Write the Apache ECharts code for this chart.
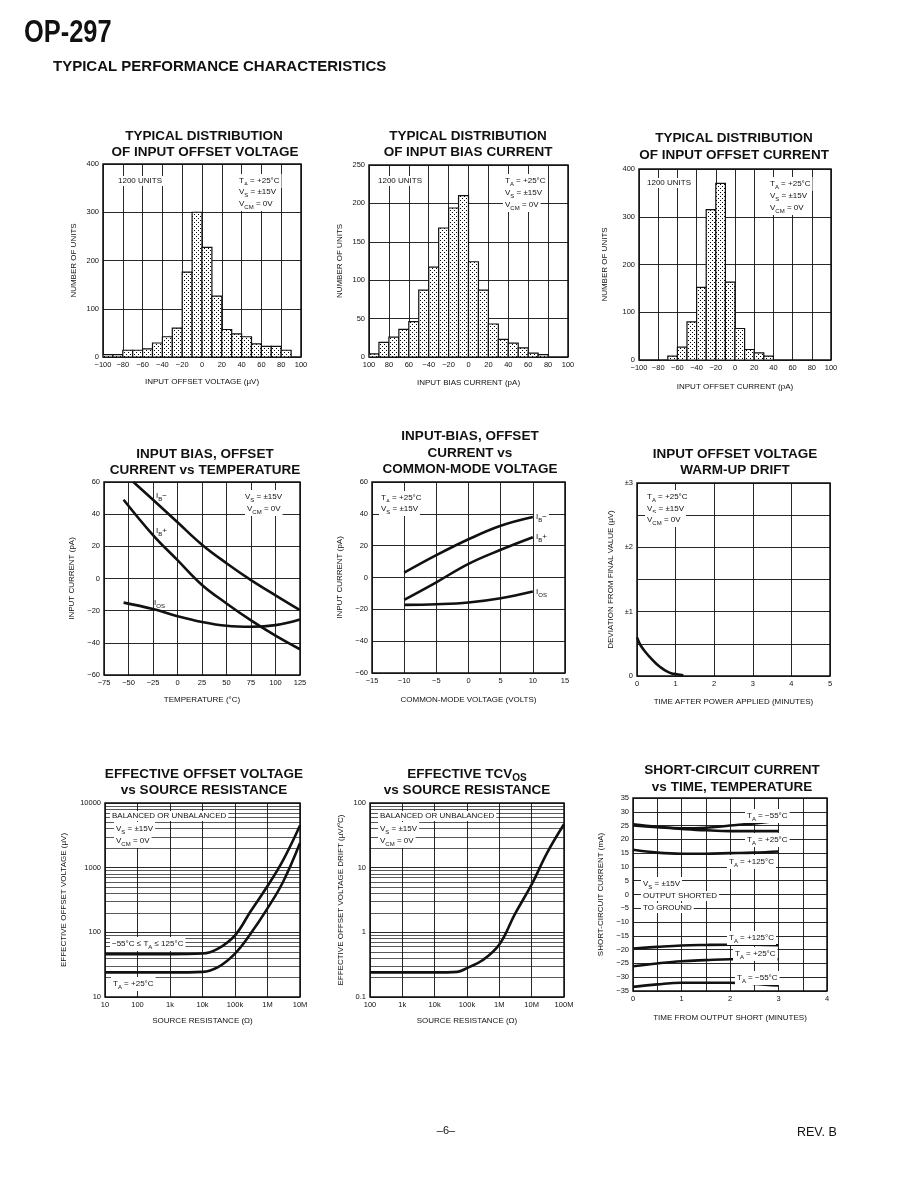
<!DOCTYPE html>
<html><head><meta charset="utf-8">
<script src="https://cdn.jsdelivr.net/npm/echarts@6/dist/echarts.min.js"></script>
<style>html,body{margin:0;padding:0;background:#fff}#c{width:918px;height:1188px}</style>
</head><body><div id="c"></div>
<script>
// ===================== DATA =====================
// 1. Typical distribution of input offset voltage (bins of 10 µV)
const vosBinStart = [-100,-90,-80,-70,-60,-50,-40,-30,-20,-10,0,10,20,30,40,50,60,70,80];
const vosCount    = [5,5,14,14,17,29,42,60,176,300,227,126,57,48,42,27,22,22,14];
const vosTickLabels = ['−100','−80','−60','−40','−20','0','20','40','60','80','100'];
// 2. Typical distribution of input bias current (bins of 10 pA)
const ibBinStart = [-100,-90,-80,-70,-60,-50,-40,-30,-20,-10,0,10,20,30,40,50,60,70];
const ibCount    = [4,19,26,36,46,87,117,168,194,210,124,87,43,23,18,12,5,3];
const ibTickLabels = ['100','80','60','−40','−20','0','20','40','60','80','100'];
// 3. Typical distribution of input offset current (bins of 10 pA)
const iosBinStart = [-70,-60,-50,-40,-30,-20,-10,0,10,20,30];
const iosCount    = [8,27,80,152,315,370,163,66,22,15,8];
const iosTickLabels = ['−100','−80','−60','−40','−20','0','20','40','60','80','100'];
const histBinWidth = 10;
// 4. Input bias / offset current vs temperature (pA)
const ibMinusTemp = [-45,-25,0,25,50,75,100,125];
const ibMinusVsT  = [60,49,35,21,9.5,-1,-10.5,-19.7];
const ibPlusTemp  = [-55,-25,0,25,50,75,100,125];
const ibPlusVsT   = [49,27,11.4,-4,-15.5,-26,-35.5,-44];
const iosVsT      = [-15,-19,-23.4,-27,-29.4,-30,-29,-25.5];
// 5. Input bias / offset current vs common-mode voltage (pA)
const cmVolts     = [-10,-5,0,5,10];
const ibMinusVsCM = [3,14,24,32.5,38];
const ibPlusVsCM  = [-14,-3,8.6,17.4,25.3];
const iosVsCM     = [-17.2,-16.8,-15.7,-13,-8.8];
// 6. Warm-up drift (µV)
const warmTime = [0,0.1,0.25,0.4,0.5,0.6,0.75,0.9,1.0,1.2];
const warmDev  = [0.6,0.47,0.35,0.25,0.19,0.14,0.08,0.04,0.03,0.01];
// 7. Effective offset voltage vs source resistance (µV)
const rsA        = [10,100,1e3,1e4,3e4,1e5,3e5,1e6,3e6,1e7];
const vosFullT   = [46,46,46,47,56,90,210,520,1300,4500];
const vos25C     = [24,24,24,24.5,29,47,95,235,600,2400];
const rsATicks   = [10,100,1e3,1e4,1e5,1e6,1e7];
const rsALabels  = ['10','100','1k','10k','100k','1M','10M'];
const vosYTicks  = [10,100,1000,10000];
const vosYLabels = ['10','100','1000','10000'];
// 8. Effective TCVos vs source resistance (µV/°C)
const rsB        = [100,1e3,1e4,5e4,1e5,3e5,1e6,3e6,1e7,3e7,1e8];
const tcvos      = [0.24,0.24,0.24,0.245,0.28,0.37,0.65,1.9,5.5,17,47];
const rsBTicks   = [100,1e3,1e4,1e5,1e6,1e7,1e8];
const rsBLabels  = ['100','1k','10k','100k','1M','10M','100M'];
const tcYTicks   = [0.1,1,10,100];
const tcYLabels  = ['0.1','1','10','100'];
// 9. Short-circuit current vs time (mA)
const scTime    = [0,0.5,1,1.5,2,2.5,3];
const scM55Pos  = [25.5,24.6,24,24.2,25,25.8,26.8];
const sc25Pos   = [25,24.4,23.8,23.3,23,23,23];
const sc125Pos  = [16.2,15.2,14.8,14.8,15,15.2,15.6];
const sc125Neg  = [-19.6,-19,-18.5,-18.3,-18.2,-18.2,-18.4];
const sc25Neg   = [-26,-25,-24.2,-23.8,-23.5,-23.5,-23.5];
const scM55Neg  = [-33.5,-32.6,-32,-32,-32,-32.4,-33];

// ===================== STYLE / LAYOUT =====================
const FONT = '"Liberation Sans", Arial, Helvetica, sans-serif';
const INK = '#111';
const chart = echarts.init(document.getElementById('c'), null, {renderer:'canvas', width:918, height:1188});

// stipple pattern for histogram bars
const pat = document.createElement('canvas');
pat.width = 4; pat.height = 4;
(function(){ const g = pat.getContext('2d'); g.fillStyle = '#fff'; g.fillRect(0,0,4,4);
  g.fillStyle = '#000'; g.fillRect(0,0,1,1); g.fillRect(2,2,1,1); })();
const stipple = {image: pat, repeat: 'repeat'};

const gridBoxes = [
  [103,164,198,193],[369,165,199,192],[639,169,192,191],
  [104,482,196,193],[372,482,193,191],[637,483,193,193],
  [105,803,195,194],[370,803,194,194],[633,798,194,193]
];
const grids = gridBoxes.map(b => ({left:b[0], top:b[1], width:b[2], height:b[3], show:true,
  borderColor:INK, borderWidth:1.5, backgroundColor:'transparent'}));

const minus = v => (v < 0 ? '−' + (-v) : String(v));
function axis(gi, o) {
  const base = {gridIndex:gi, type:'value', axisLine:{show:false}, axisTick:{show:false},
    splitLine:{show:true, lineStyle:{color:INK, width:0.9}},
    nameLocation:'middle', nameTextStyle:{fontSize:8, color:INK, fontFamily:FONT},
    axisLabel:{fontSize:7.5, color:INK, fontFamily:FONT, margin:4, showMinLabel:true, showMaxLabel:true, hideOverlap:false}};
  const r = Object.assign({}, base, o);
  r.axisLabel = Object.assign({}, base.axisLabel, o.axisLabel || {});
  return r;
}
const lookup = (ticks, labels) => v => { const i = ticks.findIndex(t => Math.abs(Math.log10(t) - Math.log10(v)) < 1e-6); return i >= 0 ? labels[i] : ''; };

const xAxes = [
  axis(0,{min:-100,max:100,interval:20,name:'INPUT OFFSET VOLTAGE (µV)',nameGap:21,axisLabel:{formatter:v=>vosTickLabels[Math.round((v+100)/20)]}}),
  axis(1,{min:-100,max:100,interval:20,name:'INPUT BIAS CURRENT (pA)',nameGap:22,axisLabel:{formatter:v=>ibTickLabels[Math.round((v+100)/20)]}}),
  axis(2,{min:-100,max:100,interval:20,name:'INPUT OFFSET CURRENT (pA)',nameGap:23,axisLabel:{formatter:v=>iosTickLabels[Math.round((v+100)/20)]}}),
  axis(3,{min:-75,max:125,interval:25,name:'TEMPERATURE (°C)',nameGap:21,axisLabel:{formatter:minus}}),
  axis(4,{min:-15,max:15,interval:5,name:'COMMON-MODE VOLTAGE (VOLTS)',nameGap:23,axisLabel:{formatter:minus}}),
  axis(5,{min:0,max:5,interval:1,name:'TIME AFTER POWER APPLIED (MINUTES)',nameGap:22}),
  axis(6,{type:'log',logBase:10,min:10,max:1e7,splitNumber:6,name:'SOURCE RESISTANCE (Ω)',nameGap:20,axisLabel:{formatter:lookup(rsATicks,rsALabels)}}),
  axis(7,{type:'log',logBase:10,min:100,max:1e8,splitNumber:6,name:'SOURCE RESISTANCE (Ω)',nameGap:20,axisLabel:{formatter:lookup(rsBTicks,rsBLabels)}}),
  axis(8,{min:0,max:4,interval:0.5,name:'TIME FROM OUTPUT SHORT (MINUTES)',nameGap:23,axisLabel:{formatter:v=>Number.isInteger(v)?String(v):''}})
];
const yAxes = [
  axis(0,{min:0,max:400,interval:100,name:'NUMBER OF UNITS',nameGap:25}),
  axis(1,{min:0,max:250,interval:50,name:'NUMBER OF UNITS',nameGap:25}),
  axis(2,{min:0,max:400,interval:100,name:'NUMBER OF UNITS',nameGap:30}),
  axis(3,{min:-60,max:60,interval:20,name:'INPUT CURRENT (pA)',nameGap:28,axisLabel:{formatter:minus}}),
  axis(4,{min:-60,max:60,interval:20,name:'INPUT CURRENT (pA)',nameGap:28,axisLabel:{formatter:minus}}),
  axis(5,{min:0,max:3,interval:0.5,name:'DEVIATION FROM FINAL VALUE (µV)',nameGap:22,axisLabel:{formatter:v=>v===0?'0':(Number.isInteger(v)?'±'+v:'')}}),
  axis(6,{type:'log',logBase:10,min:10,max:10000,splitNumber:3,name:'EFFECTIVE OFFSET VOLTAGE (µV)',nameGap:37,axisLabel:{formatter:lookup(vosYTicks,vosYLabels)}}),
  axis(7,{type:'log',logBase:10,min:0.1,max:100,splitNumber:3,name:'EFFECTIVE OFFSET VOLTAGE DRIFT (µV/°C)',nameGap:25,axisLabel:{formatter:lookup(tcYTicks,tcYLabels)}}),
  axis(8,{min:-35,max:35,interval:5,name:'SHORT-CIRCUIT CURRENT (mA)',nameGap:28,axisLabel:{formatter:minus}})
];

function hist(i, starts, counts) {
  return {type:'custom', xAxisIndex:i, yAxisIndex:i, silent:true, clip:true,
    data: starts.map((s,k) => [s, s + histBinWidth, counts[k]]),
    encode:{x:[0,1], y:2},
    renderItem:(p, api) => {
      const a = api.coord([api.value(0), api.value(2)]);
      const b = api.coord([api.value(1), 0]);
      return {type:'rect', shape:{x:a[0], y:a[1], width:b[0]-a[0], height:b[1]-a[1]},
        style:{fill:stipple, stroke:INK, lineWidth:1.2}};
    }};
}
function curve(i, xs, ys, extra) {
  return Object.assign({type:'line', xAxisIndex:i, yAxisIndex:i, silent:true, smooth:0.4,
    symbol:'none', data: xs.map((x,k) => [x, ys[k]]), lineStyle:{color:INK, width:2.6}, z:5}, extra || {});
}
function minorLines(decades) {
  const d = [];
  decades.forEach(base => { for (let k = 2; k <= 9; k++) d.push({yAxis: +(base*k).toPrecision(3)}); });
  return {silent:true, symbol:['none','none'], label:{show:false}, animation:false,
    lineStyle:{color:INK, width:0.7, type:'solid'}, data:d};
}

const series = [
  hist(0, vosBinStart, vosCount),
  hist(1, ibBinStart, ibCount),
  hist(2, iosBinStart, iosCount),
  curve(3, ibMinusTemp, ibMinusVsT), curve(3, ibPlusTemp, ibPlusVsT), curve(3, ibPlusTemp, iosVsT),
  curve(4, cmVolts, ibMinusVsCM), curve(4, cmVolts, ibPlusVsCM), curve(4, cmVolts, iosVsCM),
  curve(5, warmTime, warmDev),
  curve(6, rsA, vosFullT, {markLine: minorLines([10,100,1000])}), curve(6, rsA, vos25C),
  curve(7, rsB, tcvos, {markLine: minorLines([0.1,1,10])}),
  curve(8, scTime, scM55Pos), curve(8, scTime, sc25Pos), curve(8, scTime, sc125Pos),
  curve(8, scTime, sc125Neg), curve(8, scTime, sc25Neg), curve(8, scTime, scM55Neg)
];

// ---------- text ----------
function rich(size, bold, fam) {
  const w = bold ? 'bold' : 'normal';
  return {n:{fontSize:size, fontFamily:fam, fontWeight:w, fill:INK, color:INK, lineHeight:size+4},
          s:{fontSize:Math.round(size*0.72), fontFamily:fam, fontWeight:w, fill:INK, color:INK, lineHeight:Math.round(size*0.72), verticalAlign:'bottom'}};
}
const sub = (a, s, b) => `{n|${a}}{s|${s}}{n|${b}}`;
function T(x, y, text, o) {
  o = o || {};
  const size = o.size || 8;
  const fam = o.family || FONT;
  const st = {text, fill:INK, font:`${o.bold?'bold ':''}${size}px ${fam}`,
    align:o.align || 'left', verticalAlign:'middle', rich:rich(size, o.bold, fam)};
  if (o.bg) { st.backgroundColor = '#fff'; st.padding = [1,2,1,2]; }
  const el = {type:'text', x, y, z:100, silent:true, style:st};
  if (o.scaleX) el.scaleX = o.scaleX;
  return el;
}
const TS = 13.5;
const TT = (x, y, t) => T(x, y, t, {size:TS, bold:true, align:'center'});

const texts = [
  T(24, 33, 'OP-297', {size:31, bold:true, scaleX:0.82}),
  T(53, 67, 'TYPICAL PERFORMANCE CHARACTERISTICS', {size:15, bold:true}),
  T(446, 1131, '–6–', {size:11, align:'center'}),
  T(797, 1133, 'REV. B', {size:12.5}),
  // titles
  TT(204, 136, 'TYPICAL DISTRIBUTION'), TT(205, 152, 'OF INPUT OFFSET VOLTAGE'),
  TT(468, 136, 'TYPICAL DISTRIBUTION'), TT(468, 152, 'OF INPUT BIAS CURRENT'),
  TT(734, 138, 'TYPICAL DISTRIBUTION'), TT(734, 155, 'OF INPUT OFFSET CURRENT'),
  TT(205, 454, 'INPUT BIAS, OFFSET'), TT(205, 470, 'CURRENT vs TEMPERATURE'),
  TT(470, 436, 'INPUT-BIAS, OFFSET'), TT(470, 453, 'CURRENT vs'), TT(470, 469, 'COMMON-MODE VOLTAGE'),
  TT(735, 454, 'INPUT OFFSET VOLTAGE'), TT(735, 470, 'WARM-UP DRIFT'),
  TT(204, 774, 'EFFECTIVE OFFSET VOLTAGE'), TT(204, 790, 'vs SOURCE RESISTANCE'),
  T(467, 774, sub('EFFECTIVE TCV','OS',''), {size:TS, bold:true, align:'center'}), TT(467, 790, 'vs SOURCE RESISTANCE'),
  TT(732, 770, 'SHORT-CIRCUIT CURRENT'), TT(732, 787, 'vs TIME, TEMPERATURE'),
  // chart 1
  T(116, 181, '1200 UNITS', {bg:true}),
  T(237, 181, sub('T','A',' = +25°C'), {bg:true}),
  T(237, 192, sub('V','S',' = ±15V'), {bg:true}),
  T(237, 204, sub('V','CM',' = 0V'), {bg:true}),
  // chart 2
  T(376, 181, '1200 UNITS', {bg:true}),
  T(503, 181, sub('T','A',' = +25°C'), {bg:true}),
  T(503, 193, sub('V','S',' = ±15V'), {bg:true}),
  T(503, 205, sub('V','CM',' = 0V'), {bg:true}),
  // chart 3
  T(645, 183, '1200 UNITS', {bg:true}),
  T(768, 184, sub('T','A',' = +25°C'), {bg:true}),
  T(768, 196, sub('V','S',' = ±15V'), {bg:true}),
  T(768, 208, sub('V','CM',' = 0V'), {bg:true}),
  // chart 4
  T(243, 497, sub('V','S',' = ±15V'), {bg:true}),
  T(245, 509, sub('V','CM',' = 0V'), {bg:true}),
  T(156, 496, sub('I','B','−')),
  T(156, 531, sub('I','B','+')),
  T(154, 603, sub('I','OS','')),
  // chart 5
  T(379, 498, sub('T','A',' = +25°C'), {bg:true}),
  T(379, 509, sub('V','S',' = ±15V'), {bg:true}),
  T(534, 517, sub('I','B','−'), {bg:true}),
  T(534, 537, sub('I','B','+'), {bg:true}),
  T(534, 592, sub('I','OS',''), {bg:true}),
  // chart 6
  T(645, 497, sub('T','A',' = +25°C'), {bg:true}),
  T(645, 509, sub('V','S',' = ±15V'), {bg:true}),
  T(645, 520, sub('V','CM',' = 0V'), {bg:true}),
  // chart 7
  T(110, 816, 'BALANCED OR UNBALANCED', {bg:true}),
  T(114, 829, sub('V','S',' = ±15V'), {bg:true}),
  T(114, 841, sub('V','CM',' = 0V'), {bg:true}),
  T(110, 944, '{n|−55°C ≤ }' + sub('T','A',' ≤ 125°C'), {bg:true}),
  T(111, 984, sub('T','A',' = +25°C'), {bg:true}),
  // chart 8
  T(378, 816, 'BALANCED OR UNBALANCED', {bg:true}),
  T(378, 829, sub('V','S',' = ±15V'), {bg:true}),
  T(378, 841, sub('V','CM',' = 0V'), {bg:true}),
  // chart 9
  T(745, 816, sub('T','A',' = −55°C'), {bg:true}),
  T(745, 840, sub('T','A',' = +25°C'), {bg:true}),
  T(727, 862, sub('T','A',' = +125°C'), {bg:true}),
  T(641, 884, sub('V','S',' = ±15V'), {bg:true}),
  T(641, 896, 'OUTPUT SHORTED', {bg:true}),
  T(641, 908, 'TO GROUND', {bg:true}),
  T(727, 938, sub('T','A',' = +125°C'), {bg:true}),
  T(733, 954, sub('T','A',' = +25°C'), {bg:true}),
  T(735, 978, sub('T','A',' = −55°C'), {bg:true})
];

chart.setOption({
  animation:false,
  backgroundColor:'#fff',
  grid: grids,
  xAxis: xAxes,
  yAxis: yAxes,
  series: series,
  graphic: {elements: texts}
});
</script>
</body></html>
